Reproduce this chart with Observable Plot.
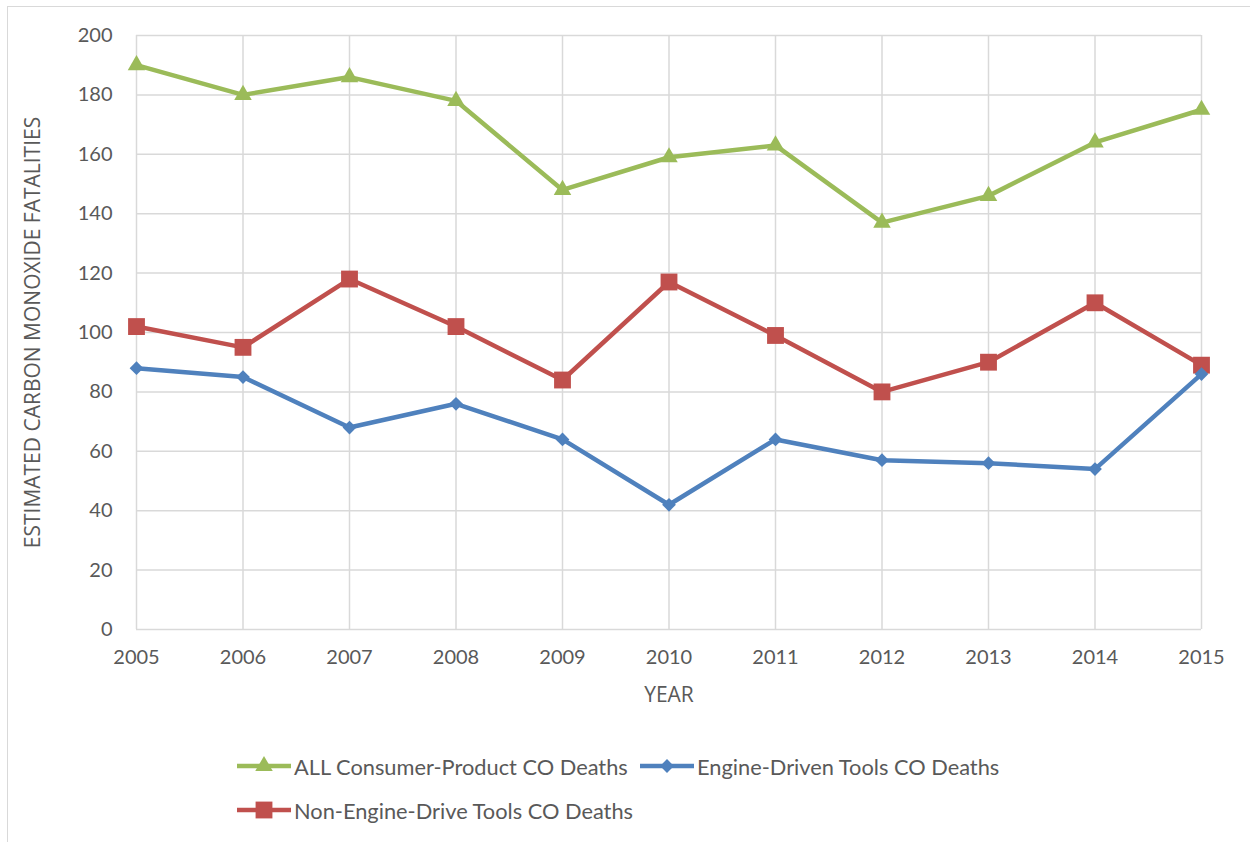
<!DOCTYPE html>
<html>
<head>
<meta charset="utf-8">
<script src="https://cdn.jsdelivr.net/npm/d3@7"></script>
<script src="https://cdn.jsdelivr.net/npm/@observablehq/plot@0.6"></script>
<style>
  html, body { margin: 0; padding: 0; background: #fff; }
  #wrap { position: relative; width: 1250px; height: 842px; overflow: hidden; }
  #frame { position: absolute; left: 7px; top: 6px; width: 1260px; height: 860px; border: 1.5px solid #d9d9d9; box-sizing: border-box; }
  #chart { position: absolute; left: 0; top: 0; }
  .legend { position: absolute; font-family: Lato, "Open Sans", sans-serif; font-size: 21.8px; color: #595959; display: flex; align-items: center; white-space: nowrap; }
  .legend svg { margin-right: 3px; }
</style>
</head>
<body>
<div id="wrap">
  <div id="frame"></div>
  <div id="chart"></div>
</div>
<script>
const years = [2005, 2006, 2007, 2008, 2009, 2010, 2011, 2012, 2013, 2014, 2015];
const seriesNames = ["ALL Consumer-Product CO Deaths", "Engine-Driven Tools CO Deaths", "Non-Engine-Drive Tools CO Deaths"];
const allConsumer = [190, 180, 186, 178, 148, 159, 163, 137, 146, 164, 175];
const engineDriven = [88, 85, 68, 76, 64, 42, 64, 57, 56, 54, 86];
const nonEngine = [102, 95, 118, 102, 84, 117, 99, 80, 90, 110, 89];
const yTicks = [0, 20, 40, 60, 80, 100, 120, 140, 160, 180, 200];
const colors = ["#9BBB59", "#4F81BD", "#C0504D"];
const symbols = ["triangle", "diamond2", "square"];
const radii = [6.5, 6.2, 9.5];

const rows = (vals, name) => years.map((y, i) => ({year: y, value: vals[i], series: name}));
const dAll = rows(allConsumer, seriesNames[0]);
const dEng = rows(engineDriven, seriesNames[1]);
const dNon = rows(nonEngine, seriesNames[2]);

const tickFont = "Lato, 'Open Sans', sans-serif";

const chart = Plot.plot({
  width: 1250,
  height: 720,
  marginLeft: 136,
  marginRight: 49,
  marginTop: 35,
  marginBottom: 91,
  style: { fontFamily: tickFont, fontSize: "20px", color: "#595959", background: "transparent" },
  x: { domain: [2005, 2015] },
  y: { domain: [0, 200] },
  marks: [
    Plot.gridX(years, { stroke: "#d9d9d9", strokeOpacity: 1, strokeWidth: 1.5 }),
    Plot.gridY(yTicks, { stroke: "#d9d9d9", strokeOpacity: 1, strokeWidth: 1.5 }),
    Plot.axisX(years, { tickSize: 0, tickPadding: 20, tickFormat: d => String(d), fontSize: 20,
      label: "YEAR", labelAnchor: "center", labelArrow: "none", labelOffset: 72 }),
    Plot.axisY(yTicks, { tickSize: 0, tickPadding: 24, fontSize: 20,
      label: "ESTIMATED CARBON MONOXIDE FATALITIES", labelAnchor: "center", labelArrow: "none", labelOffset: 111 }),
    Plot.line(dAll, { x: "year", y: "value", stroke: colors[0], strokeWidth: 4.5 }),
    Plot.dot(dAll, { x: "year", y: "value", fill: colors[0], symbol: symbols[0], r: radii[0], stroke: "none" }),
    Plot.line(dNon, { x: "year", y: "value", stroke: colors[2], strokeWidth: 4.5 }),
    Plot.dot(dNon, { x: "year", y: "value", fill: colors[2], symbol: symbols[2], r: radii[2], stroke: "none" }),
    Plot.line(dEng, { x: "year", y: "value", stroke: colors[1], strokeWidth: 4.5 }),
    Plot.dot(dEng, { x: "year", y: "value", fill: colors[1], symbol: symbols[1], r: radii[1], stroke: "none" })
  ]
});
// Axis title font (Excel uses a different face for titles)
chart.querySelectorAll("text").forEach(t => {
  if (t.textContent === "YEAR" || t.textContent === "ESTIMATED CARBON MONOXIDE FATALITIES") {
    t.style.fontFamily = "'Open Sans', sans-serif";
    t.style.fontSize = "21px";
  }
});
document.getElementById("chart").appendChild(chart);

// Legend
const wrap = document.getElementById("wrap");
const legendPos = [[237, 766], [640, 766], [237, 810]];
const symPath = (sym, r) => {
  const map = { triangle: d3.symbolTriangle, diamond2: d3.symbolDiamond2, square: d3.symbolSquare };
  return d3.symbol(map[sym], Math.PI * r * r)();
};
seriesNames.forEach((name, i) => {
  const div = document.createElement("div");
  div.className = "legend";
  div.style.left = legendPos[i][0] + "px";
  div.style.top = (legendPos[i][1] - 14) + "px";
  div.style.height = "28px";
  div.innerHTML = `<svg width="54" height="28"><line x1="0" x2="54" y1="14" y2="14" stroke="${colors[i]}" stroke-width="4.5"/>` +
    `<path transform="translate(27,14)" d="${symPath(symbols[i], radii[i])}" fill="${colors[i]}"/></svg><span>${name}</span>`;
  wrap.appendChild(div);
});
</script>
</body>
</html>
